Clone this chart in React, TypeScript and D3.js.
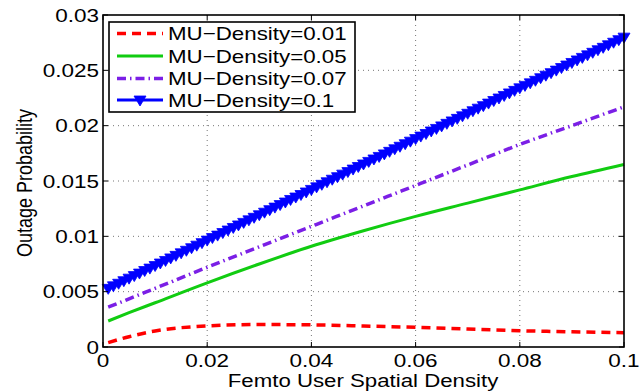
import React from "react";
import * as d3 from "d3";

const xTicks = [0, 0.02, 0.04, 0.06, 0.08, 0.1];
const xTickLabels = ["0", "0.02", "0.04", "0.06", "0.08", "0.1"];
const yTicks = [0, 0.005, 0.01, 0.015, 0.02, 0.025, 0.03];
const yTickLabels = ["0", "0.005", "0.01", "0.015", "0.02", "0.025", "0.03"];

const coarseX = [0.001, 0.005, 0.01, 0.02, 0.03, 0.04, 0.05, 0.06, 0.07, 0.08, 0.09, 0.1];
const mu001 = [0.0004, 0.00093, 0.00145, 0.0019, 0.00203, 0.002, 0.0019, 0.00178, 0.00162, 0.00147, 0.00137, 0.00129];
const mu005 = [0.00235, 0.0031, 0.004, 0.0058, 0.0075, 0.0091, 0.0105, 0.0118, 0.013, 0.0142, 0.0154, 0.0165];
const mu007 = [0.0036, 0.00435, 0.0053, 0.0072, 0.00905, 0.0109, 0.01275, 0.0146, 0.01645, 0.0183, 0.02, 0.0217];

const fineX = [
  0.001, 0.002, 0.003, 0.004, 0.005, 0.006, 0.007, 0.008, 0.009, 0.010,
  0.011, 0.012, 0.013, 0.014, 0.015, 0.016, 0.017, 0.018, 0.019, 0.020,
  0.021, 0.022, 0.023, 0.024, 0.025, 0.026, 0.027, 0.028, 0.029, 0.030,
  0.031, 0.032, 0.033, 0.034, 0.035, 0.036, 0.037, 0.038, 0.039, 0.040,
  0.041, 0.042, 0.043, 0.044, 0.045, 0.046, 0.047, 0.048, 0.049, 0.050,
  0.051, 0.052, 0.053, 0.054, 0.055, 0.056, 0.057, 0.058, 0.059, 0.060,
  0.061, 0.062, 0.063, 0.064, 0.065, 0.066, 0.067, 0.068, 0.069, 0.070,
  0.071, 0.072, 0.073, 0.074, 0.075, 0.076, 0.077, 0.078, 0.079, 0.080,
  0.081, 0.082, 0.083, 0.084, 0.085, 0.086, 0.087, 0.088, 0.089, 0.090,
  0.091, 0.092, 0.093, 0.094, 0.095, 0.096, 0.097, 0.098, 0.099, 0.100,
];
const mu01 = [
  0.0053, 0.00553, 0.00576, 0.00599, 0.00622, 0.00645, 0.00668, 0.00691, 0.00713, 0.00736,
  0.00759, 0.00782, 0.00805, 0.00828, 0.00851, 0.00874, 0.00897, 0.0092, 0.00943, 0.00966,
  0.00989, 0.01011, 0.01034, 0.01057, 0.0108, 0.01103, 0.01126, 0.01149, 0.01172, 0.01195,
  0.01218, 0.01241, 0.01264, 0.01287, 0.0131, 0.01333, 0.01355, 0.01378, 0.01401, 0.01424,
  0.01447, 0.0147, 0.01493, 0.01516, 0.01539, 0.01562, 0.01585, 0.01608, 0.01631, 0.01654,
  0.01677, 0.01699, 0.01722, 0.01745, 0.01768, 0.01791, 0.01814, 0.01837, 0.0186, 0.01883,
  0.01906, 0.01929, 0.01952, 0.01975, 0.01998, 0.02021, 0.02043, 0.02066, 0.02089, 0.02112,
  0.02135, 0.02158, 0.02181, 0.02204, 0.02227, 0.0225, 0.02273, 0.02296, 0.02319, 0.02342,
  0.02364, 0.02387, 0.0241, 0.02433, 0.02456, 0.02479, 0.02502, 0.02525, 0.02548, 0.02571,
  0.02594, 0.02617, 0.0264, 0.02663, 0.02686, 0.02708, 0.02731, 0.02754, 0.02777, 0.028,
];

const legendLabels = ["MU\u2212Density=0.01", "MU\u2212Density=0.05", "MU\u2212Density=0.07", "MU\u2212Density=0.1"];

const FONT = "'Liberation Sans', Arial, Helvetica, sans-serif";
const SX = 1.25;

const L = 103, R = 624, T = 15, B = 347;

const RED = "#ff0000";
const GREEN = "#11cc11";
const PURPLE = "#7b1fe6";
const BLUE = "#0000ff";

function tri(cx: number, cy: number) {
  return `M${cx - 6},${cy - 4}L${cx + 6},${cy - 4}L${cx},${cy + 6}Z`;
}

export default function App() {
  const x = d3.scaleLinear().domain([0, 0.1]).range([L, R]);
  const y = d3.scaleLinear().domain([0, 0.03]).range([B, T]);

  const line = (xs: number[], ys: number[]) =>
    d3
      .line<number>()
      .x((_, i) => x(xs[i]))
      .y((d) => y(d))
      .curve(d3.curveMonotoneX)(ys) || "";

  const styles = [
    { color: RED, dash: "9 6", w: 3.5 },
    { color: GREEN, dash: "", w: 3 },
    { color: PURPLE, dash: "9 4 1.5 4", w: 3.5 },
    { color: BLUE, dash: "", w: 3 },
  ];

  const lgL = 109, lgT = 22, lgR = 355, lgB = 112;
  const rowY = [33.5, 56, 78.5, 100];

  return (
    <svg width={642} height={391} style={{ position: "absolute", left: 0, top: 0, background: "#fff" }}>
      <rect x={0} y={0} width={642} height={391} fill="#fff" />
      {/* grid */}
      {xTicks.slice(1, -1).map((t) => (
        <line key={"gx" + t} x1={x(t)} x2={x(t)} y1={T} y2={B} stroke="#666" strokeWidth={0.9} strokeDasharray="1 4" />
      ))}
      {yTicks.slice(1, -1).map((t) => (
        <line key={"gy" + t} x1={L} x2={R} y1={y(t)} y2={y(t)} stroke="#666" strokeWidth={0.9} strokeDasharray="1 4" />
      ))}
      {/* series */}
      <path d={line(coarseX, mu001)} fill="none" stroke={RED} strokeWidth={3.5} strokeDasharray="9 6" />
      <path d={line(coarseX, mu005)} fill="none" stroke={GREEN} strokeWidth={3} />
      <path d={line(coarseX, mu007)} fill="none" stroke={PURPLE} strokeWidth={3.5} strokeDasharray="9 4 1.5 4" />
      <path d={line(fineX, mu01)} fill="none" stroke={BLUE} strokeWidth={3} />
      {mu01.map((v, i) => (
        <path key={"m" + i} d={tri(x(fineX[i]), y(v))} fill={BLUE} stroke={BLUE} strokeWidth={0.8} />
      ))}
      {/* ticks */}
      {xTicks.map((t) => (
        <g key={"tx" + t}>
          <line x1={x(t)} x2={x(t)} y1={B} y2={B - 5} stroke="#000" strokeWidth={1} />
          <line x1={x(t)} x2={x(t)} y1={T} y2={T + 5} stroke="#000" strokeWidth={1} />
        </g>
      ))}
      {yTicks.map((t) => (
        <g key={"ty" + t}>
          <line x1={L} x2={L + 5} y1={y(t)} y2={y(t)} stroke="#000" strokeWidth={1} />
          <line x1={R} x2={R - 5} y1={y(t)} y2={y(t)} stroke="#000" strokeWidth={1} />
        </g>
      ))}
      <rect x={L} y={T} width={R - L} height={B - T} fill="none" stroke="#000" strokeWidth={1.6} />
      {/* tick labels */}
      {yTicks.map((t, i) => (
        <text
          key={"yl" + t}
          transform={`translate(${L - 4},${y(t) + 6.5}) scale(${SX},1)`}
          textAnchor="end"
          fontFamily={FONT}
          fontSize={18}
          fill="#000"
        >
          {yTickLabels[i]}
        </text>
      ))}
      {xTicks.map((t, i) => (
        <text
          key={"xl" + t}
          transform={`translate(${x(t)},${367}) scale(${SX},1)`}
          textAnchor="middle"
          fontFamily={FONT}
          fontSize={18}
          fill="#000"
        >
          {xTickLabels[i]}
        </text>
      ))}
      {/* axis labels */}
      <text
        transform={`translate(363,387) scale(1.27,1)`}
        textAnchor="middle"
        fontFamily={FONT}
        fontSize={17.5}
        fill="#000"
      >
        Femto User Spatial Density
      </text>
      <text
        transform={`translate(32,183) scale(1.25,1) rotate(-90)`}
        textAnchor="middle"
        fontFamily={FONT}
        fontSize={18}
        fill="#000"
      >
        Outage Probability
      </text>
      {/* legend */}
      <rect x={lgL} y={lgT} width={lgR - lgL} height={lgB - lgT} fill="#fff" stroke="#000" strokeWidth={1.6} />
      {legendLabels.map((lab, i) => (
        <g key={"lg" + i}>
          <line
            x1={117}
            x2={163}
            y1={rowY[i]}
            y2={rowY[i]}
            stroke={styles[i].color}
            strokeWidth={styles[i].w}
            strokeDasharray={styles[i].dash || undefined}
          />
          {i === 3 && <path d={tri(140, rowY[i])} fill={BLUE} stroke={BLUE} strokeWidth={0.8} />}
          <text
            transform={`translate(168,${rowY[i] + 6.5}) scale(1.22,1)`}
            fontFamily={FONT}
            fontSize={18.3}
            fill="#000"
          >
            {lab}
          </text>
        </g>
      ))}
    </svg>
  );
}
